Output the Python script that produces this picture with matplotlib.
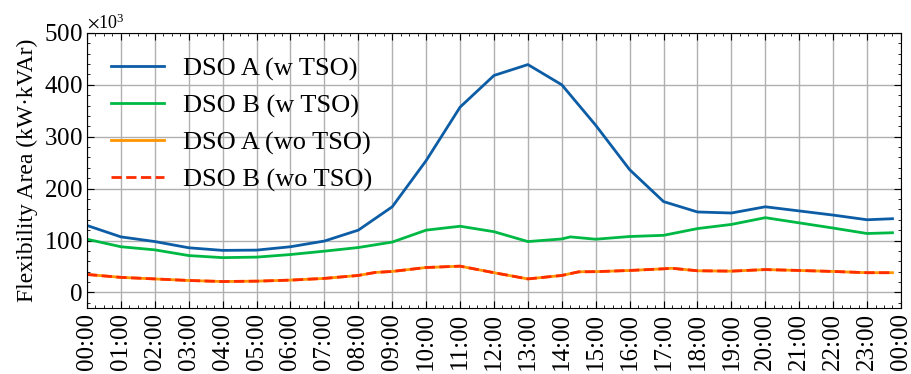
import matplotlib
matplotlib.use('Agg')
import matplotlib.pyplot as plt
from matplotlib.ticker import MultipleLocator

plt.rcParams['font.family'] = ['Liberation Serif', 'DejaVu Serif']
plt.rcParams['mathtext.fontset'] = 'stix'

# x in hours of the day, y in kW·kVAr
hours_a = list(range(24)) + [23.75]
dso_a_w = [129, 107, 98, 86, 81, 81.5, 88, 99, 120, 165, 254, 357, 418,
           439, 400, 322, 236.5, 175, 155, 153, 165, 157, 149, 140, 142]

hours_b = list(range(15)) + [14.25] + list(range(15, 24)) + [23.75]
dso_b_w = [102.5, 88, 82, 71, 67, 68, 73, 79.5, 86.5, 97, 120, 127.5, 117,
           98, 103, 107, 102.5, 107.7, 110, 123, 131, 144, 134, 124, 113.5, 115]

hours_wo = (list(range(9)) + [8.5] + list(range(9, 15)) + [14.5]
            + list(range(15, 18)) + [17.25] + list(range(18, 24)) + [23.75])
hours_wo = sorted(hours_wo)
dso_wo = [34.6, 29, 26, 23, 21, 21.7, 23.7, 27, 32.7, 38.5, 40.4, 48, 50.6,
          38, 26, 32.7, 39.7, 40, 42.3, 45.5, 46.5, 41.7, 41, 44, 42.3, 40.4, 38, 38]

tick_labels = ['%02d:00' % (h % 24) for h in range(25)]

fig = plt.figure(figsize=(9.12, 3.74), dpi=100)
ax = fig.add_axes([0.0954, 0.1765, 0.8925, 0.7355])

ax.plot(hours_a, [v * 1000 for v in dso_a_w], color='#0C5DA5', lw=2, label='DSO A (w TSO)')
ax.plot(hours_b, [v * 1000 for v in dso_b_w], color='#00B945', lw=2, label='DSO B (w TSO)')
ax.plot(hours_wo, [v * 1000 for v in dso_wo], color='#FF9500', lw=2, label='DSO A (wo TSO)')
ax.plot(hours_wo, [v * 1000 for v in dso_wo], color='#FF2C00', lw=2, ls='--', label='DSO B (wo TSO)')

ax.set_xlim(0, 24)
ax.set_ylim(-30000, 500000)
ax.set_xticks(range(25))
ax.set_xticklabels(tick_labels, rotation=90, fontsize=18)
ax.xaxis.set_minor_locator(MultipleLocator(0.25))
ax.yaxis.set_major_locator(MultipleLocator(100000))
ax.yaxis.set_minor_locator(MultipleLocator(20000))
ax.ticklabel_format(style='sci', axis='y', scilimits=(3, 3), useMathText=True)
ax.yaxis.get_offset_text().set_fontsize(13)
ax.tick_params(axis='y', labelsize=18)
ax.tick_params(which='both', direction='in', top=True, right=True)
ax.tick_params(which='major', length=5)
ax.tick_params(which='minor', length=2.5)
ax.grid(True, which='major', color='#b0b0b0', lw=1)
ax.set_ylabel('Flexibility Area (kW·kVAr)', fontsize=17)

ax.legend(loc='upper left', frameon=False, fontsize=19, handlelength=2.0,
          handletextpad=0.75, labelspacing=0.5)

fig.savefig('out.png', dpi=100)
